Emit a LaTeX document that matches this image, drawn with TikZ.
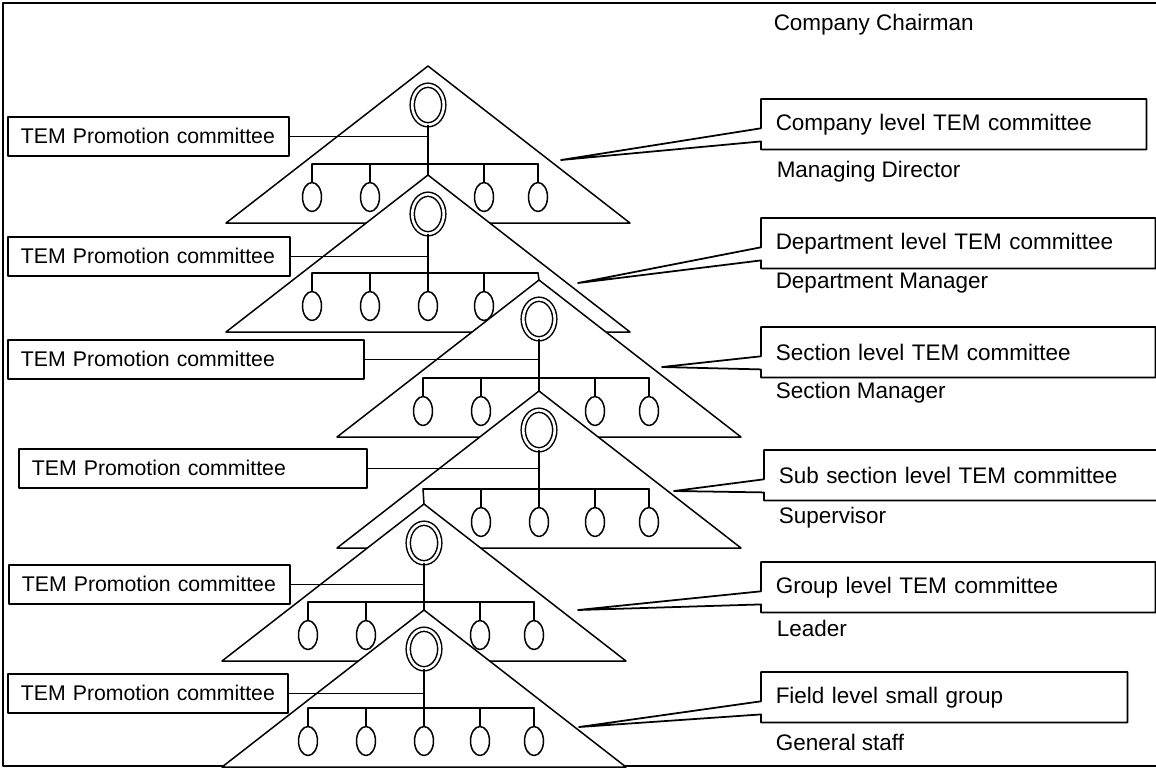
\documentclass[tikz,border=0pt]{standalone}
\usepackage{fontspec}
\setmainfont{Liberation Sans}
\usetikzlibrary{shapes.geometric,calc}

\tikzset{
	member/.style={draw, ellipse, minimum width=0.38cm, minimum height=0.58cm, inner sep=0pt},
	head/.style={draw, ellipse, double, double distance=1.5pt, minimum width=0.63cm, minimum height=0.79cm, inner sep=0pt},
	promo/.style={draw, line width=1pt, anchor=north west, text width=#1, align=left, inner xsep=0.26cm, minimum height=0.78cm, font=\fontsize{12.1}{14}\selectfont},
	level/.style={anchor=north west, text width=#1, align=left, inner xsep=0.28cm, minimum height=0.98cm, font=\fontsize{12.8}{15}\selectfont},
	role/.style={anchor=west, inner sep=0pt, font=\fontsize{12.8}{15}\selectfont},
	callout/.style={line width=1pt}
}

\begin{document}
\begin{tikzpicture}[x=0.02cm, y=-0.02cm, line width=0.85pt, line join=round, line cap=round]
	\useasboundingbox (0,0) rectangle (1156,769);
	\clip (0,0) rectangle (1156,769);
	\draw (3,3) rectangle (1170,766);
	% the six levels, each drawn over the one above
	\foreach \n/\ax/\ay/\k in {1/428/66/3, 2/428/175/5, 3/539/280/3, 4/539/391/1, 5/424/504/3, 6/424/610/0}{
		\coordinate (top\n) at (\ax,\ay);
		\draw[fill=white] (top\n) -- ++(-202,157) -- ++(404,0) -- cycle;
		\node[head] (head\n) at (\ax,\ay+39) {};
		\foreach \j/\dx in {1/-116,2/-58,3/0,4/56,5/110}{
			\coordinate (bus\n-\j) at (\ax+\dx,\ay+98);
			\ifnum\j=\k\else
				\node[member] (staff\n-\j) at (\ax+\dx,\ay+131) {};
				\draw (bus\n-\j) -- (staff\n-\j.north);
			\fi
		}
		\draw (head\n.south) -- (bus\n-3);
		\draw (bus\n-1) -- (bus\n-5);
	}
	\draw (bus1-3) -- (top2);
	\draw (bus2-5) -- (top3);
	\draw (bus3-3) -- (top4);
	\draw (bus4-1) -- (top5);
	\draw (bus5-3) -- (top6);
	
	% promotion committees
	\node[promo=5.10cm] (promo1) at (7,116) {\mbox{TEM Promotion committee}};
	\node[promo=5.12cm] (promo2) at (7,236) {\mbox{TEM Promotion committee}};
	\node[promo=6.60cm] (promo3) at (7,339) {\mbox{TEM Promotion committee}};
	\node[promo=6.44cm] (promo4) at (18,448) {\mbox{TEM Promotion committee}};
	\node[promo=5.10cm] (promo5) at (8,564) {\mbox{TEM Promotion committee}};
	\node[promo=5.08cm] (promo6) at (7,673) {\mbox{TEM Promotion committee}};
	\foreach \n in {1,...,6}{
		\draw (promo\n.east) -- (promo\n.east -| head\n);
	}
	
	% level committees
	\node[level=7.12cm] (company) at (761,99) {Company level TEM committee};
	\node[level=7.30cm] (department) at (761,218) {Department level TEM committee};
	\node[level=7.30cm] (section) at (761,327) {Section level TEM committee};
	\node[level=7.44cm] (subsection) at (764,450) {Sub section level TEM committee};
	\node[level=7.30cm] (group) at (761,562) {Group level TEM committee};
	\node[level=6.74cm] (field) at (761,672) {Field level small group};
	\path
	(561,160) coordinate (tip1)
	(578,283) coordinate (tip2)
	(662,367) coordinate (tip3)
	(674,491) coordinate (tip4)
	(578,610) coordinate (tip5)
	(579,727) coordinate (tip6)
	;
	\foreach \c/\t in {company/tip1, department/tip2, section/tip3, subsection/tip4, group/tip5, field/tip6}{
		\draw[callout] (\c.north west) -- ($(\c.north west)!0.58!(\c.south west)$) -- (\t)
		-- ($(\c.north west)!0.84!(\c.south west)$) -- (\c.south west) -- (\c.south east) -- (\c.north east) -- cycle;
	}
	
	% positions
	\node[role] (chairman) at (773,25) {Company Chairman};
	\node[role] (director) at (776,172) {Managing Director};
	\node[role] (deptmanager) at (775,283) {Department Manager};
	\node[role] (secmanager) at (775,393) {Section Manager};
	\node[role] (supervisor) at (778,518) {Supervisor};
	\node[role] (leader) at (776,628) {Leader};
	\node[role] (staff) at (775,742) {General staff};
\end{tikzpicture}
\end{document}
